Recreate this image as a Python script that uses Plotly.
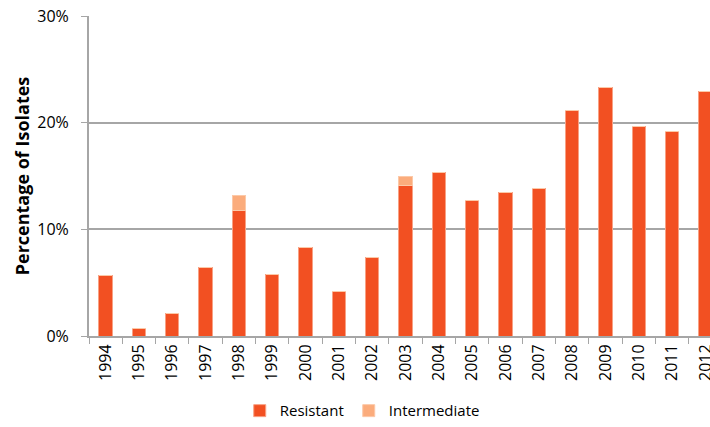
import plotly.graph_objects as go

# ---------------------------------------------------
# Data (percent of isolates)
# ---------------------------------------------------

years = [str(y) for y in range(1994, 2013)]

resistant = [5.7, 0.7, 2.1, 6.4, 11.8, 5.8, 8.3, 4.2, 7.4, 14.1,
             15.3, 12.7, 13.5, 13.8, 21.1, 23.3, 19.6, 19.2, 22.9]

intermediate = [0, 0, 0, 0, 1.4, 0, 0, 0, 0, 0.9,
                0, 0, 0, 0, 0, 0, 0, 0, 0]

font_family = "Open Sans, Liberation Sans, sans-serif"
grid_col = "#A6A6A6"

fig = go.Figure()

fig.add_trace(go.Bar(
    x=years,
    y=resistant,
    name="Resistant",
    marker=dict(color="#F25022", line=dict(color="#F8A184", width=1))
))

fig.add_trace(go.Bar(
    x=years,
    y=intermediate,
    name="Intermediate",
    marker=dict(color="#FBAC7C", line=dict(color="#FCC9A8", width=1))
))

fig.update_layout(
    barmode="stack",
    bargap=0.6,
    width=710,
    height=427,
    margin=dict(l=89, r=0, t=16, b=91, autoexpand=False),
    plot_bgcolor="white",
    paper_bgcolor="white",
    font=dict(family=font_family, size=14, color="#000000"),
    legend=dict(
        orientation="h",
        x=0.44,
        xanchor="center",
        y=-0.234,
        yanchor="middle",
        font=dict(size=15),
        traceorder="normal",
    ),
    xaxis=dict(
        type="category",
        range=[-0.5, 18.14],
        tickmode="array",
        tickvals=years,
        showline=True,
        linecolor=grid_col,
        linewidth=2,
        ticks="outside",
        tickson="boundaries",
        ticklen=6,
        tickcolor=grid_col,
        tickangle=-90,
        tickfont=dict(size=16),
        ticklabeloverflow="allow",
        showgrid=False,
    ),
    yaxis=dict(
        range=[0, 30],
        tickvals=[0, 10, 20, 30],
        ticktext=["0%", "10%", "20%", "30%"],
        showgrid=True,
        gridcolor=grid_col,
        gridwidth=2,
        showline=True,
        linecolor=grid_col,
        linewidth=2,
        ticks="outside",
        ticklen=6,
        tickcolor=grid_col,
        ticklabelstandoff=9,
        ticklabeloverflow="allow",
        tickfont=dict(size=16),
        zeroline=False,
        title=dict(
            text="<b>Percentage of Isolates</b>",
            font=dict(size=18),
            standoff=3,
        ),
    ),
)

# drop the default page margin so the figure sits at the window's corner
fig.write_html(
    "out.html",
    config={"displayModeBar": False},
    post_script="document.body.style.margin='0';document.body.style.overflow='hidden';"
)
